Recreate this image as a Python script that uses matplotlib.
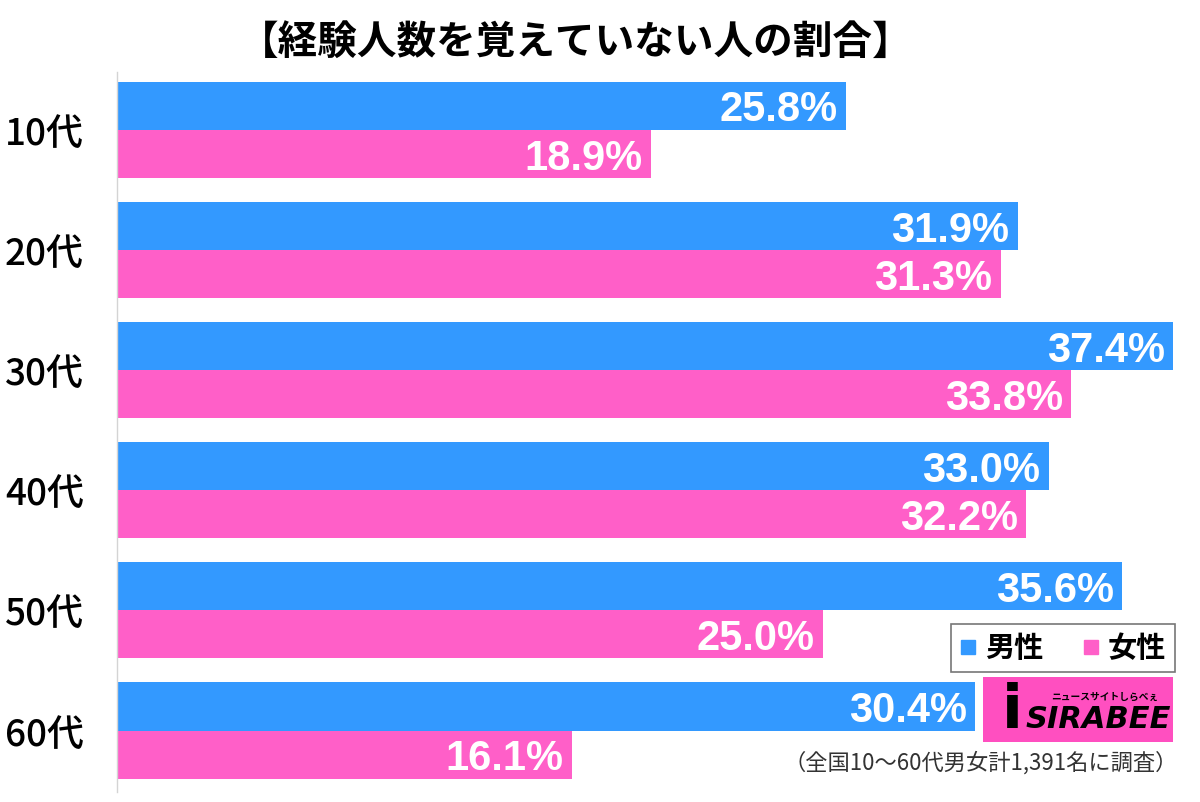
import matplotlib
matplotlib.use('Agg')
import matplotlib.pyplot as plt
from matplotlib.lines import Line2D
from matplotlib.patches import Rectangle

plt.rcParams['font.family'] = ['Noto Sans CJK JP', 'DejaVu Sans']

ages = ['10代', '20代', '30代', '40代', '50代', '60代']
male = [25.8, 31.9, 37.4, 33.0, 35.6, 30.4]
female = [18.9, 31.3, 33.8, 32.2, 25.0, 16.1]
series_names = ['男性', '女性']
title = '【経験人数を覚えていない人の割合】'
note = '（全国10～60代男女計1,391名に調査）'

blue = '#3399ff'
pink = '#ff5fc8'

W, H = 1200, 802
fig = plt.figure(figsize=(W / 100, H / 100), dpi=100)
fig.patch.set_facecolor('white')

# axes placed in pixel terms
ax = fig.add_axes([117 / W, 10 / H, 1073 / W, 720 / H])
y = list(range(len(ages)))
ax.barh([i - 0.2 for i in y], male, height=0.4, color=blue)
ax.barh([i + 0.2 for i in y], female, height=0.4, color=pink)
ax.set_xlim(0, 38.0)
ax.set_ylim(5.512, -0.483)
ax.set_yticks(y)
ax.set_yticklabels(ages, fontsize=26.5, fontweight='medium')
ax.set_xticks([])
ax.tick_params(axis='y', length=0, pad=24)
for s in ['top', 'right', 'bottom']:
    ax.spines[s].set_visible(False)
ax.spines['left'].set_color('#d4d4d4')
ax.spines['left'].set_linewidth(1)

for vals, off in [(male, -0.2), (female, 0.2)]:
    for i, v in enumerate(vals):
        ax.annotate(f'{v:.1f}%', (v, i + off), xytext=(-6, 0), textcoords='offset points',
                    ha='right', va='center_baseline', color='white', fontsize=30,
                    fontweight='bold', family=['Liberation Sans', 'DejaVu Sans'])

fig.text(576 / W, 1 - 42 / H, title, ha='center', va='center', fontsize=28.5, fontweight='bold')

handles = [Line2D([], [], marker='s', linestyle='none', markersize=10, color=blue),
           Line2D([], [], marker='s', linestyle='none', markersize=10, color=pink)]
leg = fig.legend(handles, series_names, loc='upper right', bbox_to_anchor=(1175 / W, 1 - 624 / H),
                 borderaxespad=0, ncol=2, fancybox=False, edgecolor='#555555', handlelength=0.6,
                 handletextpad=0.3, columnspacing=1.3, borderpad=0.3,
                 prop={'size': 21, 'weight': 'bold'})
leg.get_frame().set_linewidth(1.2)

# SIRABEE logo box
fig.patches.append(Rectangle((983 / W, 1 - 742 / H), 190 / W, 65 / H, transform=fig.transFigure,
                             facecolor='#ff4fc0', edgecolor='none'))
fig.text(1012 / W, 1 - 712 / H, 'i', ha='center', va='center', fontsize=44, fontweight='heavy',
         color='black', family=['DejaVu Sans'])
fig.text(1098 / W, 1 - 720 / H, 'SIRABEE', ha='center', va='center', fontsize=22, fontweight='heavy',
         style='italic', color='black', family=['DejaVu Sans'])
fig.text(1105 / W, 1 - 697 / H, 'ニュースサイトしらべぇ', ha='center', va='center', fontsize=7,
         fontweight='bold', color='black')

fig.text(1178 / W, 1 - 763 / H, note, ha='right', va='center', fontsize=16, color='#333333')

fig.savefig('out.png', dpi=100)
